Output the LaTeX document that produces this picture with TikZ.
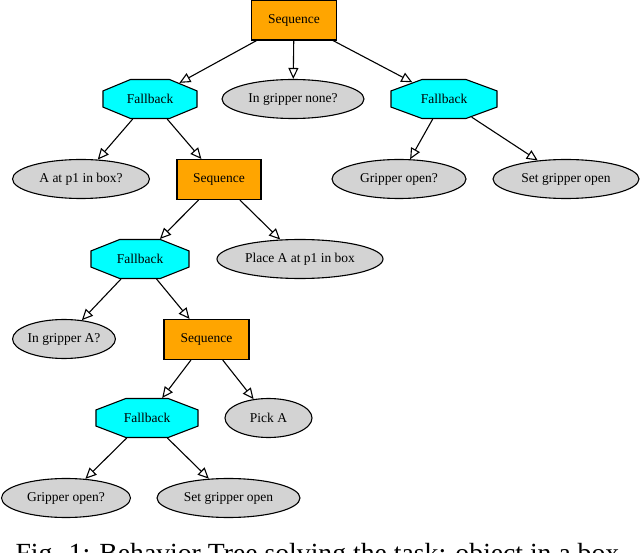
\documentclass[tikz,border=0pt]{standalone}
\usepackage{fontspec}
\setmainfont{Liberation Serif}
\usetikzlibrary{shapes.geometric,arrows.meta}
\definecolor{seqc}{HTML}{FFA500}
\definecolor{fbc}{HTML}{00FFFF}
\definecolor{leafc}{HTML}{D3D3D3}
\begin{document}
\begin{tikzpicture}[x=1pt,y=-1pt,
  every node/.style={font=\fontsize{13.5}{15}\selectfont, inner sep=0pt, line width=1.1pt},
  seqbox/.style={draw, fill=seqc, rectangle, minimum width=85pt, minimum height=40pt},
  fbbox/.style={draw, fill=fbc, regular polygon, regular polygon sides=8, minimum size=43.3pt, transform shape, yscale=0.975},
  leaf/.style={draw, fill=leafc, ellipse, minimum height=39pt},
  edge/.style={line width=1.1pt, -{Triangle[open, length=11pt, width=10pt]}}]
\useasboundingbox (0,0) rectangle (640,553);
\clip (0,0) rectangle (640,553);
% positions of the octagons
\coordinate (p1) at (150,99);
\coordinate (p2) at (444,99);
\coordinate (p3) at (140,259);
\coordinate (p4) at (147,418);
% nodes
\node[seqbox] (s1) at (294,20) {Sequence};
\node[fbbox, xscale=2.35] (f1) at (p1) {\scalebox{0.4255}[1.0256]{Fallback}};
\node[leaf, minimum width=142pt] (n1) at (293,99) {In gripper none?};
\node[fbbox, xscale=2.65] (f2) at (p2) {\scalebox{0.3774}[1.0256]{Fallback}};
\node[leaf, minimum width=137pt] (a1) at (81,179) {A at p1 in box?};
\node[seqbox, minimum width=84pt] (s2) at (219,179.5) {Sequence};
\node[leaf, minimum width=134pt] (g1) at (399,179) {Gripper open?};
\node[leaf, minimum width=146pt] (sg1) at (566,179) {Set gripper open};
\node[fbbox, xscale=2.45] (f3) at (p3) {\scalebox{0.4082}[1.0256]{Fallback}};
\node[leaf, minimum width=166pt] (pl) at (300,259) {Place A at p1 in box};
\node[leaf, minimum width=100pt] (ig) at (64,339) {In gripper A?};
\node[seqbox] (s3) at (206.5,339.5) {Sequence};
\node[fbbox, xscale=2.55] (f4) at (p4) {\scalebox{0.3922}[1.0256]{Fallback}};
\node[leaf, minimum width=87pt] (pk) at (268.5,418) {Pick A};
\node[leaf, minimum width=129pt] (g2) at (66,498) {Gripper open?};
\node[leaf, minimum width=143pt] (sg2) at (228.5,498) {Set gripper open};
\node[anchor=base west, font=\fontsize{27.7}{30}\selectfont] (cap) at (15,562) {Fig. 1: Behavior Tree solving the task: object in a box};
% edges
\draw[edge] (s1) -- (f1);
\draw[edge] (s1) -- (n1);
\draw[edge] (s1) -- (f2);
\draw[edge] (f1) -- (a1);
\draw[edge] (f1) -- (s2);
\draw[edge] (f2) -- (g1);
\draw[edge] (f2) -- (sg1);
\draw[edge] (s2) -- (f3);
\draw[edge] (s2) -- (pl);
\draw[edge] (f3) -- (ig);
\draw[edge] (f3) -- (s3);
\draw[edge] (s3) -- (f4);
\draw[edge] (s3) -- (pk);
\draw[edge] (f4) -- (g2);
\draw[edge] (f4) -- (sg2);
\end{tikzpicture}
\end{document}
